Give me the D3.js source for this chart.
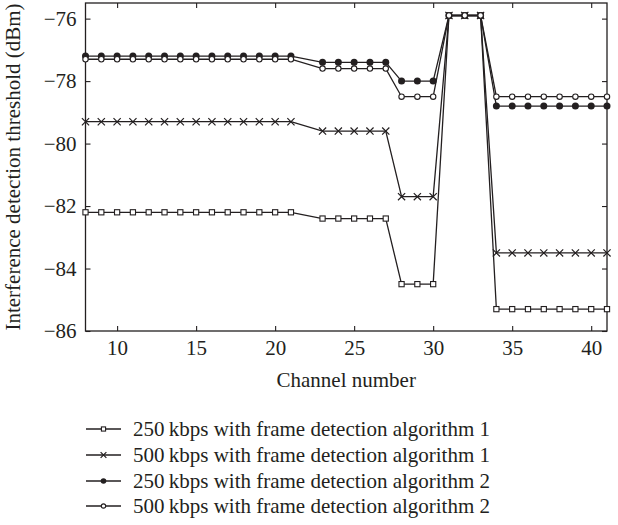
<!DOCTYPE html>
<html lang="en">
<head>
  <meta charset="UTF-8" />
  <title>Interference detection threshold</title>
  <style>
    body { margin: 0; background: #fff; }
    svg { display: block; }
  </style>
  <script src="https://d3js.org/d3.v7.min.js"></script>
</head>
<body>
<div id="chart"></div>
<script>
  // channel numbers (22 is not measured)
  const channels = [8, 9, 10, 11, 12, 13, 14, 15, 16, 17, 18, 19, 20, 21,
    23, 24, 25, 26, 27, 28, 29, 30, 31, 32, 33, 34, 35, 36, 37, 38, 39, 40, 41];

  const s250a1 = [-82.2, -82.2, -82.2, -82.2, -82.2, -82.2, -82.2, -82.2, -82.2, -82.2, -82.2, -82.2, -82.2, -82.2,
    -82.4, -82.4, -82.4, -82.4, -82.4, -84.5, -84.5, -84.5, -75.9, -75.9, -75.9,
    -85.3, -85.3, -85.3, -85.3, -85.3, -85.3, -85.3, -85.3];
  const s500a1 = [-79.3, -79.3, -79.3, -79.3, -79.3, -79.3, -79.3, -79.3, -79.3, -79.3, -79.3, -79.3, -79.3, -79.3,
    -79.6, -79.6, -79.6, -79.6, -79.6, -81.7, -81.7, -81.7, -75.9, -75.9, -75.9,
    -83.5, -83.5, -83.5, -83.5, -83.5, -83.5, -83.5, -83.5];
  const s250a2 = [-77.2, -77.2, -77.2, -77.2, -77.2, -77.2, -77.2, -77.2, -77.2, -77.2, -77.2, -77.2, -77.2, -77.2,
    -77.4, -77.4, -77.4, -77.4, -77.4, -78.0, -78.0, -78.0, -75.9, -75.9, -75.9,
    -78.8, -78.8, -78.8, -78.8, -78.8, -78.8, -78.8, -78.8];
  const s500a2 = [-77.3, -77.3, -77.3, -77.3, -77.3, -77.3, -77.3, -77.3, -77.3, -77.3, -77.3, -77.3, -77.3, -77.3,
    -77.6, -77.6, -77.6, -77.6, -77.6, -78.5, -78.5, -78.5, -75.9, -75.9, -75.9,
    -78.5, -78.5, -78.5, -78.5, -78.5, -78.5, -78.5, -78.5];

  const seriesNames = [
    '250\u2009kbps with frame detection algorithm 1',
    '500\u2009kbps with frame detection algorithm 1',
    '250\u2009kbps with frame detection algorithm 2',
    '500\u2009kbps with frame detection algorithm 2'
  ];
  const seriesMarks = ['square', 'cross', 'dot', 'ring'];
  const seriesValues = [s250a1, s500a1, s250a2, s500a2];

  const xTicks = [10, 15, 20, 25, 30, 35, 40];
  const yTicks = [-76, -78, -80, -82, -84, -86];

  const W = 618, H = 525;
  const ink = '#231f20';
  const font = '"Liberation Serif", "Times New Roman", "DejaVu Serif", serif';
  const fs = 21;
  const m = { left: 85.5, right: 607, top: 3, bottom: 331 };

  const x = d3.scaleLinear().domain([8, 41]).range([m.left, m.right]);
  const y = d3.scaleLinear().domain([-86, -75.5]).range([m.bottom, m.top]);

  const svg = d3.select('#chart').append('svg')
    .attr('width', W)
    .attr('height', H);

  // axes with inward ticks on all four sides
  const tl = 5;
  svg.append('g')
    .attr('transform', `translate(0,${m.bottom})`)
    .call(d3.axisBottom(x).tickValues(xTicks).tickSize(-tl).tickPadding(9))
    .call(g => g.select('.domain').remove());
  svg.append('g')
    .attr('transform', `translate(0,${m.top})`)
    .call(d3.axisTop(x).tickValues(xTicks).tickSize(-tl).tickFormat(''))
    .call(g => g.select('.domain').remove());
  svg.append('g')
    .attr('transform', `translate(${m.left},0)`)
    .call(d3.axisLeft(y).tickValues(yTicks).tickSize(-tl).tickPadding(9)
      .tickFormat(d => '\u2212' + Math.abs(d)))
    .call(g => g.select('.domain').remove());
  svg.append('g')
    .attr('transform', `translate(${m.right},0)`)
    .call(d3.axisRight(y).tickValues(yTicks).tickSize(-tl).tickFormat(''))
    .call(g => g.select('.domain').remove());

  svg.selectAll('g').attr('font-family', font).attr('font-size', fs);
  svg.selectAll('.tick line').attr('stroke', ink).attr('stroke-width', 1.1);
  svg.selectAll('.tick text').attr('fill', ink)
    .style('font-family', font).style('font-size', fs + 'px');

  svg.append('rect')
    .attr('x', m.left).attr('y', m.top)
    .attr('width', m.right - m.left).attr('height', m.bottom - m.top)
    .attr('fill', 'none').attr('stroke', ink).attr('stroke-width', 1.3);

  // axis titles
  svg.append('text')
    .attr('x', (m.left + m.right) / 2).attr('y', 387)
    .attr('text-anchor', 'middle')
    .attr('fill', ink)
    .style('font-family', font).style('font-size', fs + 'px')
    .text('Channel number');
  svg.append('text')
    .attr('transform', `translate(20,${(m.top + m.bottom) / 2}) rotate(-90)`)
    .attr('text-anchor', 'middle')
    .attr('fill', ink)
    .style('font-family', font).style('font-size', fs + 'px')
    .text('Interference detection threshold (dBm)');

  function drawMark(g, kind, cx, cy, s) {
    if (kind === 'square') {
      g.append('rect').attr('x', cx - 2.6 * s).attr('y', cy - 2.6 * s)
        .attr('width', 5.2 * s).attr('height', 5.2 * s)
        .attr('fill', '#fff').attr('stroke', ink).attr('stroke-width', 1.1);
    } else if (kind === 'cross') {
      const r = 3.6 * s;
      g.append('path')
        .attr('d', `M${cx - r},${cy - r}L${cx + r},${cy + r}M${cx - r},${cy + r}L${cx + r},${cy - r}`)
        .attr('stroke', ink).attr('stroke-width', 1.2).attr('fill', 'none');
    } else if (kind === 'dot') {
      g.append('circle').attr('cx', cx).attr('cy', cy).attr('r', 3.5 * s).attr('fill', ink);
    } else {
      g.append('circle').attr('cx', cx).attr('cy', cy).attr('r', 2.7 * s)
        .attr('fill', '#fff').attr('stroke', ink).attr('stroke-width', 1.1);
    }
  }

  const line = d3.line()
    .x(d => x(d[0]))
    .y(d => y(d[1]));

  seriesValues.forEach((vals, i) => {
    const pts = channels.map((c, j) => [c, vals[j]]);
    const g = svg.append('g');
    g.append('path')
      .datum(pts)
      .attr('d', line)
      .attr('fill', 'none')
      .attr('stroke', ink)
      .attr('stroke-width', 1.3);
    pts.forEach(p => drawMark(g, seriesMarks[i], x(p[0]), y(p[1]), 1));
  });

  // legend
  const legY = [429, 455, 481, 506];
  seriesNames.forEach((name, i) => {
    const g = svg.append('g');
    g.append('line')
      .attr('x1', 86).attr('x2', 121)
      .attr('y1', legY[i]).attr('y2', legY[i])
      .attr('stroke', ink).attr('stroke-width', 1.3);
    drawMark(g, seriesMarks[i], 103.5, legY[i], 0.8);
    g.append('text')
      .attr('x', 133).attr('y', legY[i] + 7)
      .attr('fill', ink)
      .style('font-family', font).style('font-size', fs + 'px')
      .text(name);
  });
</script>
</body>
</html>
